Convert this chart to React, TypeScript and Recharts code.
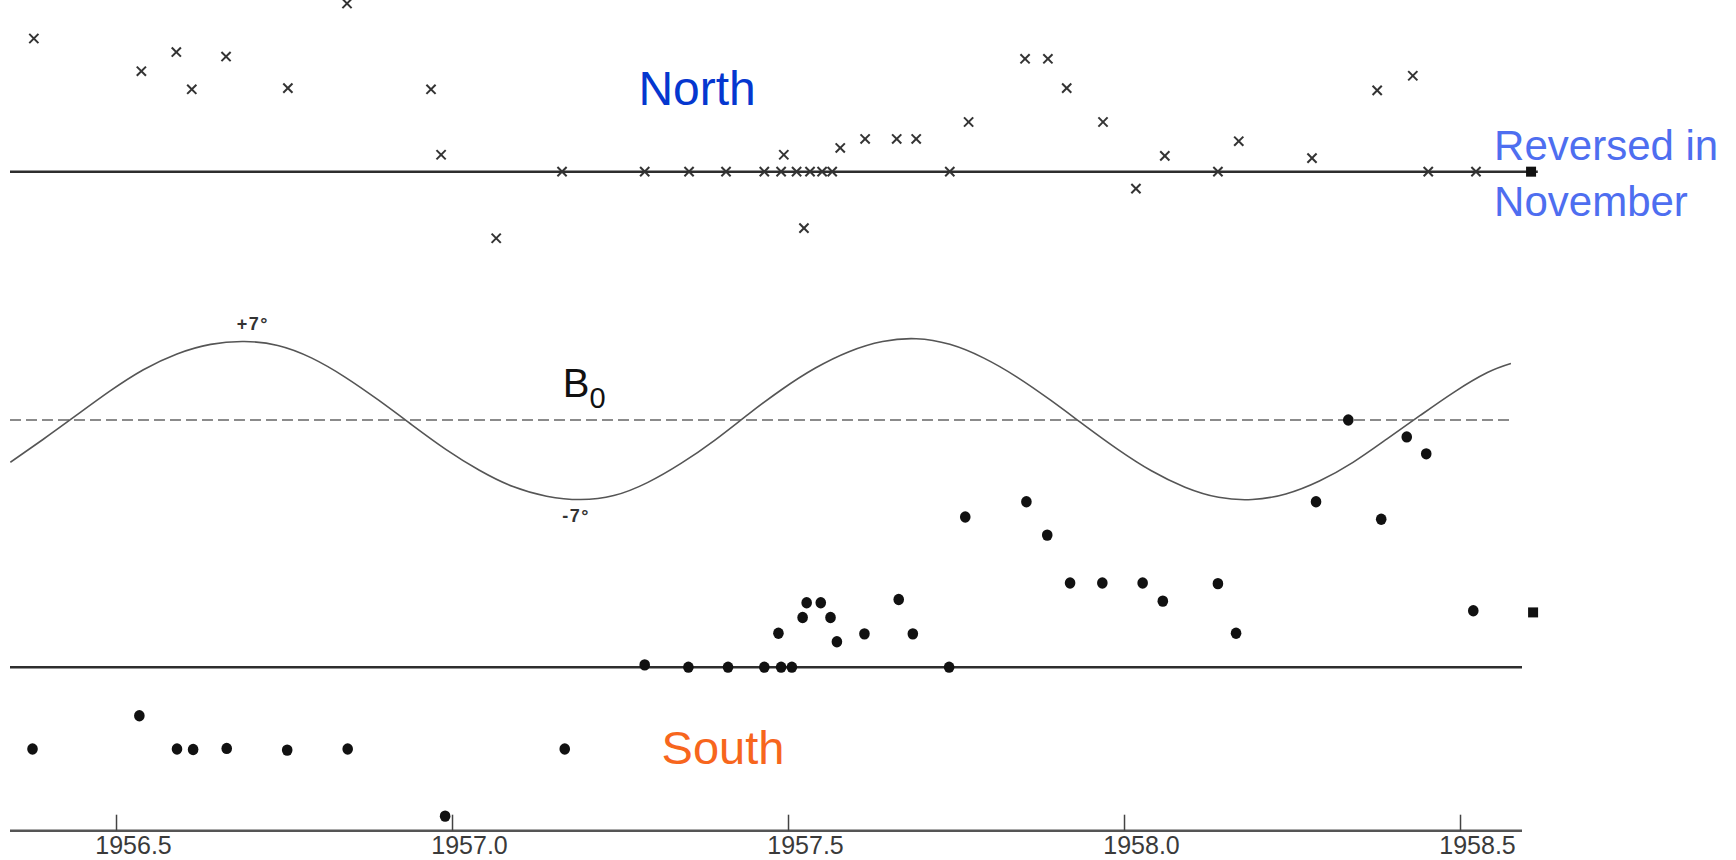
/* ── Polar field reversal chart (North / South with B0 curve) ── */

import React from 'react';
import {
  ComposedChart,
  Scatter,
  Line,
  XAxis,
  YAxis,
  ReferenceLine,
  ReferenceDot,
} from 'recharts';

// time axis (years) and the ticks printed under it
const X_DOMAIN = [1956.3415, 1958.5915];
const Y_DOMAIN = [-36.39, 37.21];
const YEAR_TICKS = [1956.5, 1957.0, 1957.5, 1958.0, 1958.5];

// zero levels of the two polar traces
const NORTH_BASE = 22;
const SOUTH_BASE = -21.9;

// north pole readings: [year, field above its baseline]
const northPts: [number, number][] = [
  [1956.377, 11.8], [1956.537, 8.9], [1956.589, 10.6], [1956.612, 7.3],
  [1956.663, 10.2], [1956.755, 7.4], [1956.843, 14.9], [1956.968, 7.3],
  [1956.983, 1.5], [1957.065, -5.9], [1957.163, 0], [1957.286, 0],
  [1957.352, 0], [1957.407, 0], [1957.464, 0], [1957.489, 0],
  [1957.493, 1.5], [1957.512, 0], [1957.523, -5.0], [1957.532, 0],
  [1957.55, 0], [1957.565, 0], [1957.577, 2.1], [1957.614, 2.9],
  [1957.661, 2.9], [1957.69, 2.9], [1957.74, 0], [1957.768, 4.4],
  [1957.852, 10.0], [1957.886, 10.0], [1957.914, 7.4], [1957.968, 4.4],
  [1958.017, -1.5], [1958.06, 1.4], [1958.139, 0], [1958.17, 2.7],
  [1958.279, 1.2], [1958.376, 7.2], [1958.429, 8.5], [1958.452, 0],
  [1958.523, 0],
];

// south pole readings: [year, field above its baseline]
const southPts: [number, number][] = [
  [1956.375, -7.25], [1956.534, -4.3], [1956.59, -7.25], [1956.614, -7.3],
  [1956.664, -7.2], [1956.754, -7.35], [1956.844, -7.25], [1956.989, -13.2],
  [1957.167, -7.25], [1957.286, 0.2], [1957.351, 0], [1957.41, 0],
  [1957.464, 0], [1957.489, 0], [1957.505, 0], [1957.485, 3.0],
  [1957.521, 4.4], [1957.527, 5.7], [1957.548, 5.7], [1957.5625, 4.4],
  [1957.572, 2.25], [1957.613, 2.95], [1957.664, 6.0], [1957.685, 2.95],
  [1957.739, 0], [1957.763, 13.3], [1957.854, 14.65], [1957.885, 11.7],
  [1957.919, 7.45], [1957.967, 7.45], [1958.027, 7.45], [1958.057, 5.85],
  [1958.139, 7.4], [1958.166, 3.0], [1958.285, 14.65], [1958.333, 21.9],
  [1958.382, 13.1], [1958.42, 20.4], [1958.449, 18.9], [1958.519, 5.0],
];

// last readings (November), drawn as squares
const novNorth: [number, number] = [1958.605, 0];
const novSouth: [number, number] = [1958.608, 4.85];

// heliographic latitude of disk centre, degrees
const b0Pts: [number, number][] = [
  [1956.342, -3.75], [1956.39, -1.75], [1956.44, 0.4], [1956.49, 2.55],
  [1956.54, 4.45], [1956.59, 5.85], [1956.64, 6.7], [1956.69, 6.95],
  [1956.74, 6.6], [1956.79, 5.5], [1956.84, 3.8], [1956.89, 1.75],
  [1956.94, -0.45], [1956.99, -2.6], [1957.04, -4.45], [1957.09, -5.9],
  [1957.14, -6.75], [1957.19, -7.05], [1957.24, -6.7], [1957.29, -5.55],
  [1957.34, -3.85], [1957.39, -1.8], [1957.44, 0.5], [1957.49, 2.7],
  [1957.54, 4.6], [1957.59, 6.05], [1957.64, 6.95], [1957.69, 7.2],
  [1957.74, 6.7], [1957.79, 5.5], [1957.84, 3.8], [1957.89, 1.75],
  [1957.94, -0.45], [1957.99, -2.6], [1958.04, -4.5], [1958.09, -5.95],
  [1958.14, -6.85], [1958.19, -7.05], [1958.24, -6.55], [1958.29, -5.4],
  [1958.34, -3.75], [1958.39, -1.7], [1958.44, 0.4], [1958.49, 2.45],
  [1958.54, 4.2], [1958.575, 5.0],
];

const B0_END = 1958.576;
const NORTH_END = 1958.615;

const SANS = '"Liberation Sans", Arial, sans-serif';

const northData = northPts.map(([t, g]) => ({ t, v: NORTH_BASE + g }));
const southData = southPts.map(([t, g]) => ({ t, v: SOUTH_BASE + g }));
const b0Data = b0Pts.map(([t, v]) => ({ t, v }));

function XMark(props: any) {
  const { cx, cy } = props;
  if (cx == null || cy == null) return null;
  const d = 4.6;
  return (
    <g stroke="#333" strokeWidth={2}>
      <line x1={cx - d} y1={cy - d} x2={cx + d} y2={cy + d} />
      <line x1={cx - d} y1={cy + d} x2={cx + d} y2={cy - d} />
    </g>
  );
}

function DotMark(props: any) {
  const { cx, cy } = props;
  if (cx == null || cy == null) return null;
  return <ellipse cx={cx} cy={cy} rx={5.3} ry={5.7} fill="#111" />;
}

function SquareMark(props: any) {
  const { cx, cy } = props;
  return <rect x={cx - 5} y={cy - 5} width={10} height={10} fill="#111" />;
}

function YearTick(props: any) {
  const { x, y, payload } = props;
  return (
    <g>
      <line x1={x} x2={x} y1={y} y2={y - 16} stroke="#444" strokeWidth={1.5} />
      <text
        x={x + 17}
        y={y + 23.5}
        textAnchor="middle"
        fontSize={25}
        fontFamily={SANS}
        fill="#3a3a3a"
      >
        {Number(payload.value).toFixed(1)}
      </text>
    </g>
  );
}

const textAt =
  (
    lines: string[],
    opts: { size: number; fill: string; anchor?: string; bold?: boolean; lh?: number; ls?: number }
  ) =>
  (p: any) => {
    const { x, y } = p.viewBox;
    return (
      <text
        x={x}
        y={y}
        fontSize={opts.size}
        fill={opts.fill}
        fontFamily={SANS}
        fontWeight={opts.bold ? 700 : 400}
        letterSpacing={opts.ls || 0}
        textAnchor={opts.anchor || 'start'}
      >
        {lines.map((s, i) => (
          <tspan key={i} x={x} dy={i === 0 ? 0 : opts.lh}>
            {s}
          </tspan>
        ))}
      </text>
    );
  };

const b0Label = (p: any) => {
  const { x, y } = p.viewBox;
  return (
    <text x={x} y={y} fontSize={40} fill="#111" fontFamily={SANS}>
      B
      <tspan fontSize={29} dy={11}>
        0
      </tspan>
    </text>
  );
};

export default function App() {
  return (
    <div style={{ position: 'absolute', left: 0, top: 0, width: 1736, height: 860, background: '#fff' }}>
      <ComposedChart width={1736} height={860} margin={{ top: 0, right: 214, bottom: 0, left: 10 }}>
        <XAxis
          type="number"
          dataKey="t"
          domain={X_DOMAIN}
          allowDataOverflow
          ticks={YEAR_TICKS}
          interval={0}
          height={29.3}
          tickSize={0}
          tickMargin={0}
          tickLine={false}
          axisLine={{ stroke: '#555', strokeWidth: 2.5 }}
          tick={<YearTick />}
        />
        <YAxis type="number" dataKey="v" domain={Y_DOMAIN} allowDataOverflow hide />

        {/* baselines */}
        <ReferenceLine
          segment={[{ x: X_DOMAIN[0], y: NORTH_BASE }, { x: NORTH_END, y: NORTH_BASE }]}
          stroke="#2e2e2e"
          strokeWidth={2.5}
          ifOverflow="visible"
        />
        <ReferenceLine y={SOUTH_BASE} stroke="#2e2e2e" strokeWidth={2.5} />
        <ReferenceLine
          segment={[{ x: X_DOMAIN[0], y: 0 }, { x: B0_END, y: 0 }]}
          stroke="#666"
          strokeWidth={1.5}
          strokeDasharray="11 5"
        />

        <Line
          data={b0Data}
          dataKey="v"
          type="natural"
          dot={false}
          stroke="#555"
          strokeWidth={1.6}
          isAnimationActive={false}
        />

        <Scatter data={northData} shape={<XMark />} isAnimationActive={false} />
        <Scatter data={southData} shape={<DotMark />} isAnimationActive={false} />

        <ReferenceDot x={novNorth[0]} y={NORTH_BASE + novNorth[1]} r={5} ifOverflow="visible" shape={SquareMark} />
        <ReferenceDot x={novSouth[0]} y={SOUTH_BASE + novSouth[1]} r={5} ifOverflow="visible" shape={SquareMark} />

        {/* annotations */}
        <ReferenceDot x={1957.364} y={27.95} r={0} fill="none" stroke="none"
          label={textAt(['North'], { size: 48, fill: '#0537cf', anchor: 'middle' })} />
        <ReferenceDot x={1957.4025} y={-30.44} r={0} fill="none" stroke="none"
          label={textAt(['South'], { size: 47, fill: '#f7661d', anchor: 'middle' })} />
        <ReferenceDot x={1958.55} y={23.0} r={0} fill="none" stroke="none"
          label={textAt(['Reversed in', 'November'], { size: 42, fill: '#4e6ef0', lh: 56 })} />
        <ReferenceDot x={1957.164} y={2.0} r={0} fill="none" stroke="none" label={b0Label} />
        <ReferenceDot x={1956.703} y={8.0} r={0} fill="none" stroke="none"
          label={textAt(['+7°'], { size: 18, fill: '#333', anchor: 'middle', bold: true, ls: 1.5 })} />
        <ReferenceDot x={1957.184} y={-9.0} r={0} fill="none" stroke="none"
          label={textAt(['-7°'], { size: 18, fill: '#333', anchor: 'middle', bold: true, ls: 1.5 })} />
      </ComposedChart>
    </div>
  );
}
